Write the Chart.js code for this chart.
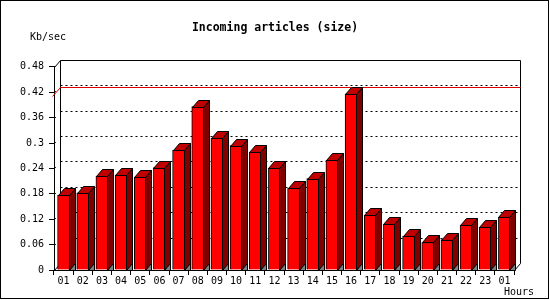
<!DOCTYPE html>
<html><head><meta charset="utf-8">
<script src="https://cdn.jsdelivr.net/npm/chart.js@4/dist/chart.umd.min.js"></script>
<style>html,body{margin:0;padding:0;background:#fff}#wrap{width:550px;height:300px}canvas{display:block}</style>
</head><body><div id="wrap"><canvas id="c" width="550" height="300"></canvas></div>
<script>
const categories = ['01','02','03','04','05','06','07','08','09','10','11','12','13','14','15','16','17','18','19','20','21','22','23','01'];
const sizeValues = [0.177,0.182,0.222,0.224,0.219,0.242,0.283,0.386,0.311,0.294,0.278,0.240,0.193,0.216,0.259,0.416,0.129,0.108,0.080,0.065,0.072,0.106,0.101,0.125];
const yTickValues = [0,0.06,0.12,0.18,0.24,0.30,0.36,0.42,0.48];
const yTickLabels = ['0','0.06','0.12','0.18','0.24','0.3','0.36','0.42','0.48'];
const chartTitle = 'Incoming articles (size)';
const yUnit = 'Kb/sec';
const xUnit = 'Hours';

const DX = 6, DY = 7;
const MONO = '"DejaVu Sans Mono", "Liberation Mono", monospace';
Chart.defaults.font.family = MONO;
Chart.defaults.font.size = 10;
Chart.defaults.color = '#000';

function line(ctx, x1, y1, x2, y2){ ctx.beginPath(); ctx.moveTo(x1,y1); ctx.lineTo(x2,y2); ctx.stroke(); }
function poly(ctx, pts, fill){
  ctx.beginPath(); ctx.moveTo(pts[0][0], pts[0][1]);
  for (let i=1;i<pts.length;i++) ctx.lineTo(pts[i][0], pts[i][1]);
  ctx.closePath(); ctx.fillStyle = fill; ctx.fill(); ctx.stroke();
}

const box3d = {
  id: 'box3d',
  beforeDraw(chart){
    const ctx = chart.ctx; ctx.save(); ctx.fillStyle='#fff'; ctx.fillRect(0,0,chart.width,chart.height); ctx.restore();
  },
  beforeDatasetsDraw(chart){
    const {ctx, chartArea:a, scales:{y}} = chart;
    const s = v => Math.round(v) + 0.5;
    ctx.save();
    ctx.lineWidth = 1; ctx.strokeStyle = '#000';
    const backTop = s(y.getPixelForValue(y.max) - DY);
    const backBottom = s(a.bottom - DY);
    const bl = s(a.left + DX), br = s(a.right + DX);
    // dotted grid on back wall
    ctx.setLineDash([2,3]);
    y.ticks.forEach(t => {
      if (t.value > 0 && t.value < y.max) {
        const py = s(y.getPixelForValue(t.value) - DY);
        line(ctx, bl, py, br, py);
        // short dotted slant from the front axis
        line(ctx, s(a.left), py + DY, s(a.left) + 2.5, py + DY - 3);
      }
    });
    ctx.setLineDash([]);
    // back wall frame
    line(ctx, bl, backTop, br, backTop);
    line(ctx, br, backTop, br, backBottom);
    line(ctx, bl, backTop, bl, backBottom);
    line(ctx, s(a.left), s(a.top), bl, backTop);
    line(ctx, s(a.left), s(a.bottom), bl, backBottom);
    line(ctx, s(a.right), s(a.bottom), br, backBottom);
    // max line
    const mx = Math.max(...sizeValues);
    const my = s(y.getPixelForValue(mx) - DY);
    ctx.strokeStyle = '#e00000';
    line(ctx, bl, my, br, my);
    line(ctx, s(a.left) - 2, my + DY + 2, bl, my);
    ctx.restore();
  },
  afterDatasetsDraw(chart){
    const ctx = chart.ctx;
    const meta = chart.getDatasetMeta(0);
    ctx.save();
    ctx.lineWidth = 1; ctx.strokeStyle = '#000';
    meta.data.forEach(bar => {
      const p = bar.getProps(['x','y','base','width'], true);
      const L = Math.round(p.x - p.width/2) + 0.5, R = Math.round(p.x + p.width/2) - 0.5;
      const top = Math.round(p.y) + 0.5, base = Math.round(p.base) + 0.5;
      poly(ctx, [[R,top],[R+DX,top-DY],[R+DX,base-DY],[R,base]], '#800000');
      poly(ctx, [[L,top],[R,top],[R+DX,top-DY],[L+DX,top-DY]], '#c00000');
      poly(ctx, [[R,base],[R+DX,base-DY],[R+DX,base]], '#808080');
    });
    ctx.restore();
  },
  afterDraw(chart){
    const ctx = chart.ctx;
    ctx.save();
    ctx.fillStyle = '#000';
    ctx.font = '10px ' + MONO;
    ctx.textBaseline = 'middle';
    ctx.textAlign = 'left';
    ctx.fillText(yUnit, 30, 37);
    ctx.fillText(xUnit, 504, 292);
    ctx.strokeStyle = '#000'; ctx.lineWidth = 1;
    ctx.strokeRect(0.5, 0.5, 548, 298);
    ctx.restore();
  }
};

new Chart(document.getElementById('c'), {
  type: 'bar',
  data: {
    labels: categories,
    datasets: [{
      data: sizeValues,
      backgroundColor: '#ff0000',
      borderColor: '#000',
      borderWidth: 1,
      barThickness: 12
    }]
  },
  options: {
    responsive: false,
    devicePixelRatio: 1,
    animation: false,
    layout: { padding: { left: 0, right: 0, top: 0, bottom: 0 } },
    plugins: {
      legend: { display: false },
      tooltip: { enabled: false },
      title: {
        display: true, text: chartTitle, color: '#000',
        font: { family: MONO, size: 11.5, weight: 'bold' },
        padding: { top: 21, bottom: 32 }
      }
    },
    scales: {
      x: {
        grid: { drawOnChartArea: false, tickLength: 5, color: '#000', offset: true },
        border: { color: '#000' },
        ticks: { padding: 0, maxRotation: 0, autoSkip: false },
        afterFit: s => { s.height = 30; }
      },
      y: {
        min: 0, max: 0.48,
        afterBuildTicks: s => { s.ticks = yTickValues.map(v => ({ value: v })); },
        grid: { drawOnChartArea: false, tickLength: 5, color: '#000' },
        border: { color: '#000' },
        ticks: { padding: 5, callback: (v, i) => yTickLabels[i] },
        afterFit: s => { s.width = 54; }
      },
      yRight: {
        type: 'linear', position: 'right', display: true,
        grid: { display: false }, border: { display: false },
        ticks: { display: false },
        afterFit: s => { s.width = 36; }
      }
    }
  },
  plugins: [box3d]
});
</script>
</body></html>
